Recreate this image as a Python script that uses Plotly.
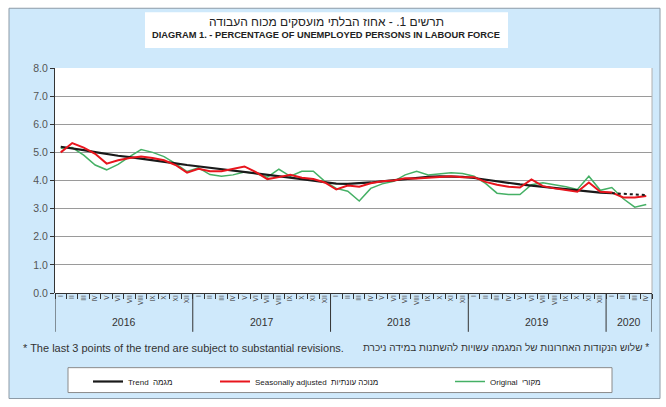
import plotly.graph_objects as go

years = ["2016", "2017", "2018", "2019", "2020"]
months_per_year = [12, 12, 12, 12, 4]
roman = ["I", "II", "III", "IV", "V", "VI", "VII", "VIII", "IX", "X", "XI", "XII"]
month_labels = []
for n in months_per_year:
    month_labels += roman[:n]

original = [5.15, 5.17, 4.9, 4.55, 4.38, 4.57, 4.85, 5.1, 5.0, 4.85, 4.6, 4.32,
            4.45, 4.21, 4.15, 4.2, 4.3, 4.25, 4.12, 4.4, 4.15, 4.33, 4.33, 3.97,
            3.72, 3.62, 3.27, 3.72, 3.88, 3.97, 4.2, 4.33, 4.2, 4.25, 4.28, 4.25,
            4.15, 3.9, 3.55, 3.5, 3.5, 3.85, 3.92, 3.85, 3.78, 3.68, 4.15, 3.65,
            3.75, 3.35, 3.05, 3.15]
seas_adj = [5.0, 5.33, 5.17, 4.95, 4.6, 4.72, 4.8, 4.85, 4.8, 4.72, 4.55, 4.28,
            4.42, 4.33, 4.33, 4.42, 4.5, 4.3, 4.05, 4.12, 4.2, 4.1, 4.05, 3.93,
            3.68, 3.82, 3.78, 3.9, 3.97, 4.0, 4.08, 4.07, 4.1, 4.13, 4.15, 4.12,
            4.12, 3.95, 3.85, 3.78, 3.75, 4.04, 3.8, 3.72, 3.65, 3.6, 3.93, 3.6,
            3.57, 3.4, 3.4, 3.45]
trend = [5.2, 5.15, 5.08, 5.01, 4.94, 4.88, 4.83, 4.78, 4.73, 4.67, 4.61, 4.55,
         4.5, 4.45, 4.4, 4.36, 4.32, 4.27, 4.22, 4.17, 4.11, 4.05, 3.99, 3.93,
         3.89, 3.88, 3.9, 3.93, 3.97, 4.01, 4.06, 4.1, 4.13, 4.15, 4.15, 4.13,
         4.09, 4.03, 3.97, 3.91, 3.86, 3.82, 3.78, 3.74, 3.69, 3.64, 3.6, 3.57,
         3.55, 3.52, 3.5, 3.48]

y_ticks = [0, 1, 2, 3, 4, 5, 6, 7, 8]

title_he = "תרשים 1. - אחוז הבלתי מועסקים מכוח העבודה"
title_en = "DIAGRAM 1. - PERCENTAGE OF UNEMPLOYED PERSONS IN LABOUR FORCE"
note_en = "* The last 3 points of the trend are subject to substantial revisions."
note_he = "שלוש הנקודות האחרונות של המגמה עשויות להשתנות במידה ניכרת *"
name_trend = "Trend  מגמה"
name_sa = "Seasonally adjusted  מנוכה עונתיות"
name_orig = "Original  מקורי"

x = list(range(len(month_labels)))
n_rev = 3
FONT = "Liberation Sans, Arial, sans-serif"

# pixel geometry helpers (plot area 55..652 x 68..294)
L, R, T, B = 55, 652, 68, 294
W, H = R - L, B - T
def px(v):
    return (v - L) / W
def py(v):
    return (B - v) / H

fig = go.Figure()
fig.add_trace(go.Scatter(x=x, y=original, mode="lines", name=name_orig,
                         line=dict(color="#45b065", width=1.5), legend="legend3"))
fig.add_trace(go.Scatter(x=x[:len(x) - n_rev], y=trend[:len(x) - n_rev], mode="lines",
                         name=name_trend, line=dict(color="#1a1a1a", width=2.2),
                         legend="legend"))
fig.add_trace(go.Scatter(x=x, y=seas_adj, mode="lines", name=name_sa,
                         line=dict(color="#e8151d", width=2), legend="legend2"))
fig.add_trace(go.Scatter(x=x[len(x) - n_rev - 1:], y=trend[len(x) - n_rev - 1:], mode="lines",
                         name=name_trend, showlegend=False,
                         line=dict(color="#1a1a1a", width=2, dash="3px,3px"),
                         legend="legend"))

# year boundaries & centres from the month counts
bounds = [-0.5]
for n in months_per_year:
    bounds.append(bounds[-1] + n)
centres = [(bounds[i] + bounds[i + 1]) / 2 for i in range(len(years))]

shapes = [
    dict(type="rect", xref="paper", yref="paper", x0=px(9), x1=px(660), y0=py(400), y1=py(8),
         fillcolor="#cfe9fb", line=dict(color="#8c9aa6", width=1), layer="below"),
    dict(type="rect", xref="paper", yref="paper", x0=0, x1=1, y0=0, y1=1,
         fillcolor="white", line=dict(width=0), layer="below"),
    dict(type="rect", xref="paper", yref="paper", x0=px(145), x1=px(508), y0=py(48), y1=py(12),
         fillcolor="white", line=dict(width=0), layer="below"),
    dict(type="rect", xref="paper", yref="paper", x0=px(68), x1=px(612), y0=py(394), y1=py(369),
         fillcolor="white", line=dict(color="#8a8a8a", width=1), layer="below"),
    dict(type="line", xref="paper", yref="paper", x0=1, x1=1, y0=0, y1=1,
         line=dict(color="#b0b0b0", width=1)),
]
for b in bounds:
    shapes.append(dict(type="line", xref="x", yref="paper", x0=b, x1=b, y0=0, y1=py(333),
                       line=dict(color="#333333", width=1)))

annotations = [
    dict(text=title_he, xref="paper", yref="paper", x=px(326), y=py(22), showarrow=False,
         font=dict(size=12, color="#222", family=FONT), xanchor="center", yanchor="middle"),
    dict(text="<b>" + title_en + "</b>", xref="paper", yref="paper", x=px(326), y=py(35),
         showarrow=False, font=dict(size=9.3, color="#222", family=FONT),
         xanchor="center", yanchor="middle"),
    dict(text=note_en, xref="paper", yref="paper", x=px(21), y=py(349), showarrow=False,
         font=dict(size=11, color="#333", family=FONT), xanchor="left", yanchor="middle"),
    dict(text=note_he, xref="paper", yref="paper", x=px(651), y=py(349), showarrow=False,
         font=dict(size=10, color="#333", family=FONT), xanchor="right", yanchor="middle"),
]
for yr, c in zip(years, centres):
    annotations.append(dict(text=yr, xref="x", yref="paper", x=c, y=py(323), showarrow=False,
                            font=dict(size=10.5, color="#333", family=FONT),
                            xanchor="center", yanchor="middle"))

leg_common = dict(orientation="h", bgcolor="rgba(0,0,0,0)", borderwidth=0,
                  yanchor="middle", y=py(381.5), xanchor="left",
                  font=dict(size=8, color="#222", family=FONT), itemwidth=30)

fig.update_layout(
    width=666, height=407,
    margin=dict(l=L, r=666 - R, t=T, b=407 - B),
    paper_bgcolor="white", plot_bgcolor="white",
    shapes=shapes, annotations=annotations,
    legend=dict(leg_common, x=px(88)),
    legend2=dict(leg_common, x=px(215)),
    legend3=dict(leg_common, x=px(450)),
    xaxis=dict(range=[-0.5, len(x) - 0.5], tickvals=x, ticktext=month_labels,
               tickangle=-90, tickfont=dict(size=6.5, color="#444", family=FONT),
               ticks="", showgrid=False, zeroline=False, showline=False,
               minor=dict(tickvals=bounds[:1] + [i + 0.5 for i in x], ticks="outside",
                          ticklen=5, tickcolor="#333", tickwidth=1, showgrid=False),
               fixedrange=True),
    yaxis=dict(range=[0, 8], tickvals=y_ticks, tickformat=".1f",
               tickfont=dict(size=10.5, color="#555", family=FONT),
               ticks="outside", ticklen=4, tickcolor="#333",
               showgrid=True, gridcolor="#9a9a9a", gridwidth=1,
               zeroline=True, zerolinecolor="#333", zerolinewidth=1,
               showline=True, linecolor="#333", linewidth=1),
    showlegend=True,
)

fig.write_html("out.html")
